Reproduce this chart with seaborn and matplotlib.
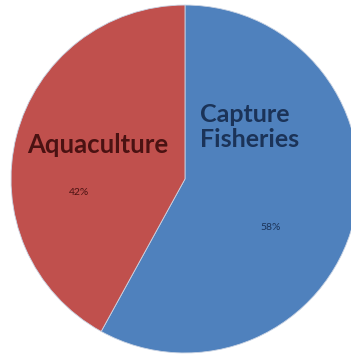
import matplotlib
matplotlib.use("Agg")
import matplotlib.pyplot as plt
import seaborn as sns

categories = ["Capture\nFisheries", "Aquaculture"]
shares = [58, 42]
pct_labels = ["58%", "42%"]
colors = ["#4F81BD", "#C0504D"]
text_colors = ["#1B3358", "#4A1212"]

sns.set_theme(style="white")
plt.rcParams["font.family"] = ["Lato", "DejaVu Sans"]

fig = plt.figure(figsize=(3.51, 3.58), dpi=100)
ax = fig.add_axes([0, 0, 1, 1])
wedges, _ = ax.pie(shares, colors=colors, startangle=90, counterclock=False,
                   wedgeprops=dict(linewidth=0.6, edgecolor="#c9d3e3"))
ax.set_xlim(-1.063, 0.954)
ax.set_ylim(-1.029, 1.029)
ax.set_aspect("equal")
ax.axis("off")

ax.text(0.086, 0.30, categories[0], ha="left", va="center", fontsize=18,
        fontweight="bold", color=text_colors[0], linespacing=1.12)
ax.text(-0.50, 0.195, categories[1], ha="center", va="center", fontsize=18.5,
        fontweight="bold", color=text_colors[1])
ax.text(0.49, -0.28, pct_labels[0], ha="center", va="center",
        fontsize=7.5, color=text_colors[0])
ax.text(-0.61, -0.08, pct_labels[1], ha="center", va="center",
        fontsize=7.5, color=text_colors[1])

fig.savefig("out.png", dpi=100)
